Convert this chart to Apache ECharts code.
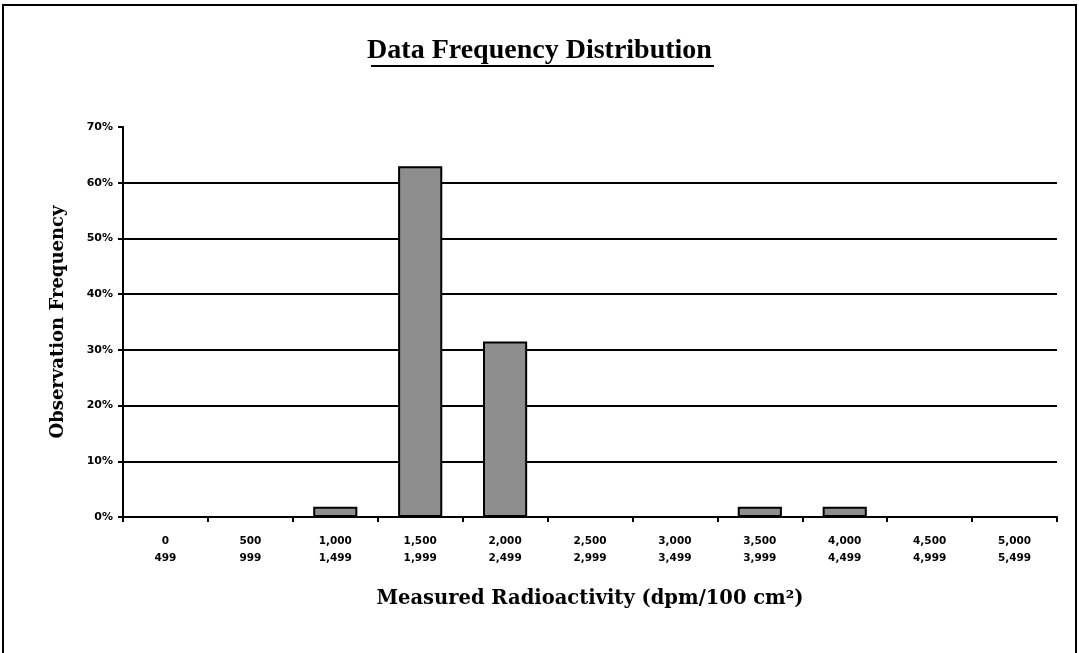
<!DOCTYPE html>
<html>
<head>
<meta charset="utf-8">
<title>Data Frequency Distribution</title>
<script src="https://cdn.jsdelivr.net/npm/echarts@6/dist/echarts.min.js"></script>
<style>
  html, body { margin: 0; padding: 0; background: #fff; }
  #chart { width: 1079px; height: 653px; }
</style>
</head>
<body>
<div id="chart"></div>
<script>
// bin lower / upper bounds (dpm/100 cm2)
var binLow = ['0', '500', '1,000', '1,500', '2,000', '2,500', '3,000', '3,500', '4,000', '4,500', '5,000']
var binHigh = ['499', '999', '1,499', '1,999', '2,499', '2,999', '3,499', '3,999', '4,499', '4,999', '5,499']
// observation frequency per bin (fraction)
var frequency = [0, 0, 0.0185, 0.6296, 0.3148, 0, 0, 0.0185, 0.0185, 0, 0]

var categories = binLow.map(function (lo, i) { return lo + '\n' + binHigh[i] })

var chart = echarts.init(document.getElementById('chart'))
chart.setOption({
  animation: false,
  title: {
    text: 'Data Frequency Distribution',
    left: 'center',
    top: 32,
    textStyle: {
      fontFamily: 'Liberation Serif',
      fontWeight: 'bold',
      fontSize: 28,
      color: '#000'
    }
  },
  grid: {
    left: 123,
    right: 22,
    top: 127,
    bottom: 136
  },
  xAxis: {
    type: 'category',
    data: categories,
    name: 'Measured Radioactivity (dpm/100 cm²)',
    nameLocation: 'middle',
    nameGap: 72,
    nameTextStyle: {
      fontFamily: 'DejaVu Serif',
      fontWeight: 'bold',
      fontSize: 19.5,
      color: '#000'
    },
    axisLine: { lineStyle: { color: '#000', width: 2 } },
    axisTick: { show: true, alignWithLabel: false, length: 5, lineStyle: { color: '#000', width: 2 } },
    axisLabel: {
      color: '#000',
      fontFamily: 'DejaVu Sans',
      fontWeight: 'bold',
      fontSize: 10.5,
      lineHeight: 17,
      margin: 16
    }
  },
  yAxis: {
    type: 'value',
    min: 0,
    max: 0.7,
    interval: 0.1,
    name: 'Observation Frequency',
    nameLocation: 'middle',
    nameGap: 56,
    nameTextStyle: {
      fontFamily: 'DejaVu Serif',
      fontWeight: 'bold',
      fontSize: 18,
      color: '#000'
    },
    axisLine: { show: true, lineStyle: { color: '#000', width: 2 } },
    axisTick: { show: true, length: 5, lineStyle: { color: '#000', width: 2 } },
    axisLabel: {
      color: '#000',
      fontFamily: 'DejaVu Sans',
      fontWeight: 'bold',
      fontSize: 11,
      margin: 10,
      formatter: function (v) { return Math.round(v * 100) + '%' }
    },
    splitLine: {
      show: true,
      showMaxLine: false,
      lineStyle: { color: '#000', width: 2 }
    }
  },
  series: [
    {
      type: 'bar',
      data: frequency,
      barWidth: '52%',
      itemStyle: {
        color: '#8e8e8e',
        borderColor: '#000',
        borderWidth: 2
      }
    }
  ],
  graphic: [
    {
      // underline of the title
      type: 'line',
      shape: { x1: 371, y1: 66, x2: 714, y2: 66 },
      style: { stroke: '#000', lineWidth: 2 }
    },
    {
      // outer frame
      type: 'rect',
      shape: { x: 3, y: 5, width: 1073, height: 660 },
      style: { fill: null, stroke: '#000', lineWidth: 2 },
      silent: true
    }
  ]
})
</script>
</body>
</html>
